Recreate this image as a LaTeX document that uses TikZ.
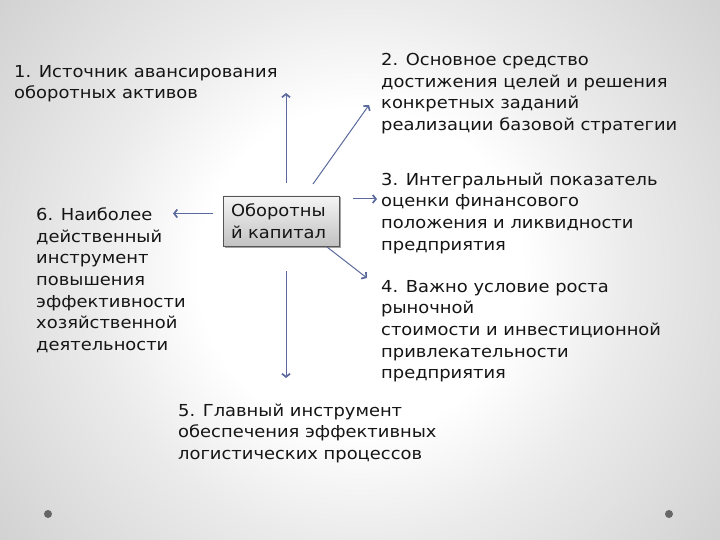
\documentclass[tikz,border=0pt]{standalone}
\usepackage{fontspec}
\setmainfont[FakeStretch=1.085]{DejaVu Sans}
\usetikzlibrary{arrows.meta,shadows}
\definecolor{arr}{HTML}{5B6A9C}
\definecolor{txtc}{HTML}{151515}
\definecolor{bgA}{HTML}{EBEBEB}
\definecolor{bgB}{HTML}{D2D2D2}
\definecolor{boxt}{HTML}{F4F4F4}
\definecolor{boxbot}{HTML}{C2C2C2}
\definecolor{boxb}{HTML}{555555}
\definecolor{dotc}{HTML}{666666}
\pgfdeclareradialshading{bgshade}{\pgfpoint{0bp}{0bp}}{color(0bp)=(white); color(9bp)=(white); color(15bp)=(bgA); color(25bp)=(bgB); color(50bp)=(bgB)}
\newcommand{\fl}{\rule{0pt}{14pt}}
\begin{document}
\begin{tikzpicture}[x=1pt,y=-1pt,
  txt/.style={anchor=north west, inner sep=0pt, align=left, font=\fontsize{16.5}{21.6}\selectfont, text=txtc},
  conn/.style={draw=arr, line width=1pt, -{Straight Barb[length=3.2pt,width=8pt,line width=1.7pt]}},
  dotm/.style={circle, fill=dotc, inner sep=0pt, minimum size=8pt}]
\useasboundingbox (0,0) rectangle (720,540);
\begin{scope}
\clip (0,0) rectangle (720,540);
\shade[shading=bgshade] (360,270) circle[radius=450];
\end{scope}

\node[draw=boxb, line width=0.6pt, top color=boxt, bottom color=boxbot,
  minimum width=116pt, minimum height=50pt, inner xsep=8pt, inner ysep=0pt,
  text width=100pt, align=left, font=\fontsize{16.5}{21.6}\selectfont, text=txtc,
  drop shadow={shadow xshift=1.5pt, shadow yshift=-1.5pt, fill=black!45, opacity=0.8}]
  (center) at (281,221) {Оборотны\\й капитал};

\node[txt] (t1) at (14,63) {\fl 1. Источник авансирования\\оборотных активов};
\node[txt] (t2) at (381,51.5) {\fl 2. Основное средство\\достижения целей и решения\\конкретных заданий\\реализации базовой стратегии};
\node[txt] (t3) at (381,171) {\fl 3. Интегральный показатель\\оценки финансового\\положения и ликвидности\\предприятия};
\node[txt] (t4) at (381,278) {\fl 4. Важно условие роста\\рыночной\\стоимости и инвестиционной\\привлекательности\\предприятия};
\node[txt] (t5) at (178,402) {\fl 5. Главный инструмент\\обеспечения эффективных\\логистических процессов};
\node[txt] (t6) at (36,206.5) {\fl 6. Наиболее\\действенный\\инструмент\\повышения\\эффективности\\хозяйственной\\деятельности};

\coordinate (u1) at (286,183); \coordinate (u2) at (286,93);
\coordinate (d1) at (313,184); \coordinate (d2) at (369,105);
\coordinate (r1) at (353,199); \coordinate (r2) at (377,199);
\coordinate (l1) at (213,213.5); \coordinate (l2) at (173,213.5);
\coordinate (e1) at (327,247); \coordinate (e2) at (367,278);
\coordinate (v1) at (286,271); \coordinate (v2) at (286,378);
\draw[conn] (u1) -- (u2);
\draw[conn] (d1) -- (d2);
\draw[conn] (r1) -- (r2);
\draw[conn] (l1) -- (l2);
\draw[conn] (e1) -- (e2);
\draw[conn] (v1) -- (v2);

\node[dotm] (p1) at (48,514) {};
\node[dotm] (p2) at (669,514) {};
\end{tikzpicture}
\end{document}
